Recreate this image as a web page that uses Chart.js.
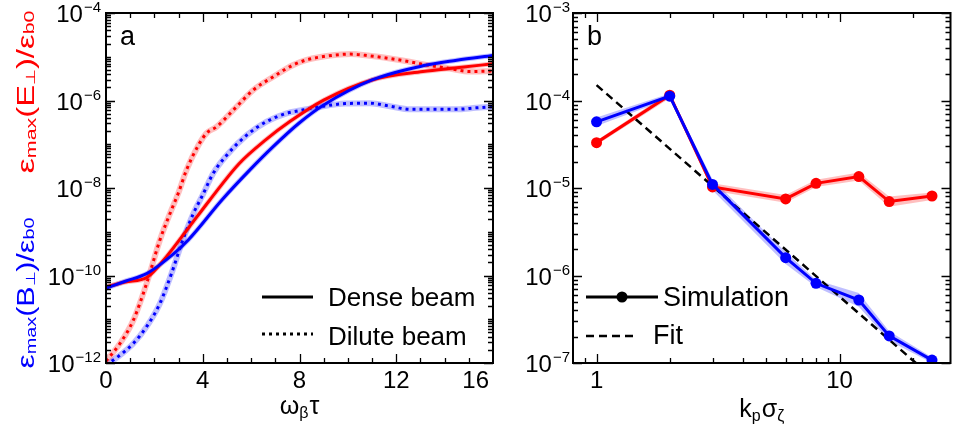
<!DOCTYPE html>
<html>
<head>
<meta charset="utf-8">
<script src="https://cdn.jsdelivr.net/npm/chart.js@4.4.1/dist/chart.umd.min.js"></script>
<style>
  html, body { margin: 0; padding: 0; background: #fff; }
  #wrap { position: relative; width: 956px; height: 432px; overflow: hidden; }
  canvas { position: absolute; top: 0; }
  #graphA { left: 0; }
  #graphB { left: 478px; }
</style>
</head>
<body>
<div id="wrap">
  <canvas id="graphA" width="500" height="432"></canvas>
  <canvas id="graphB" width="478" height="432"></canvas>
</div>
<script>
// ---- panel a: growth of E and B field emittance vs omega_beta * tau ----
const tDenseE  = [0, 0.8, 1.7, 2.5, 3.4, 4.3, 5.5, 6.6, 7.6, 9.0, 11.0, 13.1, 14.5, 16];
const denseE   = [5.5e-11, 7.1e-11, 9.1e-11, 2.7e-10, 1.2e-9, 5.4e-9, 3.6e-8, 1.26e-7, 3.3e-7, 1.02e-6, 2.95e-6, 4.6e-6, 5.6e-6, 6.9e-6];

const tDenseB  = [0, 0.8, 1.7, 2.5, 3.4, 4.8, 5.95, 6.9, 8.0, 9.0, 11.0, 13.1, 14.5, 16];
const denseB   = [5.1e-11, 7.4e-11, 1.12e-10, 2.3e-10, 6.5e-10, 5.4e-9, 2.6e-8, 8.7e-8, 3.1e-7, 7.9e-7, 2.95e-6, 6.2e-6, 8.3e-6, 1.07e-5];

const tDiluteE = [0, 0.58, 1.13, 1.68, 2.23, 2.71, 3.0, 3.33, 3.82, 4.16, 4.57, 5.26, 6.09, 6.92, 7.74, 8.3, 9.2, 10.1, 10.9, 11.74, 12.5, 13.25, 14.2, 15.05, 16];
const diluteE  = [1.1e-12, 2.8e-12, 9.5e-12, 6.6e-11, 6.5e-10, 3.2e-9, 7.9e-9, 2.6e-8, 9.5e-8, 1.8e-7, 2.5e-7, 6.0e-7, 1.74e-6, 3.5e-6, 6.5e-6, 8.5e-6, 1.05e-5, 1.15e-5, 1.05e-5, 9.1e-6, 7.8e-6, 6.5e-6, 5.4e-6, 4.6e-6, 4.7e-6];

const tDiluteB = [0, 0.5, 1.13, 1.68, 2.23, 2.71, 3.13, 3.61, 3.96, 4.44, 4.99, 5.82, 6.64, 7.47, 8.02, 8.98, 9.9, 10.91, 11.74, 12.57, 13.5, 14.5, 15.3, 16];
const diluteB  = [8.9e-13, 1.4e-12, 2.8e-12, 6.8e-12, 2.3e-11, 1.12e-10, 5.5e-10, 2.6e-9, 6.3e-9, 2.2e-8, 5.6e-8, 1.62e-7, 3.3e-7, 5.1e-7, 5.9e-7, 7.4e-7, 8.5e-7, 8.7e-7, 7.4e-7, 6.3e-7, 6.3e-7, 6.3e-7, 6.8e-7, 7.2e-7];

// ---- panel b: saturated emittance vs k_p sigma_zeta ----
const kSigma   = [1, 2, 3, 6, 8, 12, 16, 24];
const simE     = [3.3e-5, 1.15e-4, 1.03e-5, 7.5e-6, 1.13e-5, 1.35e-5, 7.0e-6, 8.1e-6];
const simELow  = [3.1e-5, 1.06e-4, 9.3e-6, 6.8e-6, 1.03e-5, 1.22e-5, 6.1e-6, 7.3e-6];
const simEHigh = [3.5e-5, 1.24e-4, 1.13e-5, 8.3e-6, 1.24e-5, 1.5e-5, 8.0e-6, 8.9e-6];
const simB     = [5.7e-5, 1.12e-4, 1.1e-5, 1.6e-6, 8.15e-7, 5.25e-7, 2.04e-7, 1.08e-7];
const simBLow  = [5.1e-5, 1.05e-4, 9.4e-6, 1.35e-6, 7.4e-7, 4.4e-7, 1.8e-7, 1.0e-7];
const simBHigh = [6.4e-5, 1.2e-4, 1.25e-5, 1.85e-6, 8.9e-7, 6.3e-7, 2.3e-7, 1.16e-7];
const fitK     = [1, 20.6];
const fitVal   = [1.5e-4, 1.0e-7];

const RED = '#ff0000';
const BLUE = '#0000ff';
const RED_BAND = 'rgba(255, 0, 0, 0.25)';
const BLUE_BAND = 'rgba(0, 0, 255, 0.25)';
const FONT = '"Liberation Sans", Arial, Helvetica, sans-serif';

const pts = (xs, ys) => xs.map((x, i) => ({ x: x, y: ys[i] }));
const font = size => size + 'px ' + FONT;

// text made of pieces, some of them smaller and lowered (subscripts)
function richWidth(ctx, parts) {
    let w = 0;
    for (const p of parts) {
        ctx.font = font(p.size);
        w += ctx.measureText(p.text).width + (p.gap || 0);
    }
    return w;
}
function drawRich(ctx, parts, x, y) {
    for (const p of parts) {
        ctx.font = font(p.size);
        ctx.fillText(p.text, x, y + (p.dy || 0));
        x += ctx.measureText(p.text).width + (p.gap || 0);
    }
}

// "10" with a raised exponent, right aligned at x
function drawPower(ctx, exp, x, y) {
    const e = '\u2212' + Math.abs(exp);
    ctx.font = font(15);
    const we = ctx.measureText(e).width;
    ctx.fillText(e, x - we, y - 1);
    ctx.font = font(24);
    const wb = ctx.measureText('10').width;
    ctx.fillText('10', x - we - wb - 1, y + 9);
}

function logTicks(from, to, majorEvery) {
    const list = [];
    for (let n = from; n < to; n++) {
        for (let k = 1; k <= 9; k++) {
            const major = k === 1 && ((n - from) % majorEvery === 0);
            list.push([k * Math.pow(10, n), major ? 9 : 5]);
        }
    }
    list.push([Math.pow(10, to), (to - from) % majorEvery === 0 ? 9 : 5]);
    return list;
}

// box, inward ticks, tick labels, titles and legend
const framePlugin = {
    id: 'frame',
    afterDraw(chart, args, opts) {
        const { ctx, chartArea: a, scales } = chart;
        const sx = scales.x, sy = scales.y;
        ctx.save();
        ctx.strokeStyle = '#000';
        ctx.lineWidth = 1.3;
        ctx.beginPath();
        for (const [v, len] of opts.xTicks) {
            const px = Math.round(sx.getPixelForValue(v)) + 0.5;
            if (px < a.left || px > a.right) continue;
            ctx.moveTo(px, a.bottom); ctx.lineTo(px, a.bottom - len);
            ctx.moveTo(px, a.top); ctx.lineTo(px, a.top + len);
        }
        for (const [v, len] of opts.yTicks) {
            const py = Math.round(sy.getPixelForValue(v)) + 0.5;
            ctx.moveTo(a.left, py); ctx.lineTo(a.left + len, py);
            ctx.moveTo(a.right, py); ctx.lineTo(a.right - len, py);
        }
        ctx.stroke();
        ctx.lineWidth = 2;
        ctx.strokeRect(a.left, a.top, a.right - a.left, a.bottom - a.top);

        ctx.fillStyle = '#000';
        ctx.textBaseline = 'alphabetic';
        ctx.textAlign = 'left';
        ctx.font = font(24);
        for (const v of opts.xLabels) {
            const s = String(v);
            const w = ctx.measureText(s).width;
            // the last label is pulled back inside the frame
            const x = Math.min(sx.getPixelForValue(v) - w / 2, a.right - 4 - w);
            ctx.fillText(s, x, a.bottom + 25);
        }
        for (const e of opts.yLabels) {
            drawPower(ctx, e, a.left - opts.yLabelGap, sy.getPixelForValue(Math.pow(10, e)));
        }

        // x axis title
        const xt = opts.xTitle;
        drawRich(ctx, xt, (a.left + a.right) / 2 - richWidth(ctx, xt) / 2, a.bottom + opts.xTitleDrop);

        // rotated y titles, stretched along the text direction
        for (const yt of opts.yTitles || []) {
            const w = richWidth(ctx, yt.parts);
            ctx.save();
            ctx.translate(yt.x, yt.cy);
            ctx.rotate(-Math.PI / 2);
            ctx.scale(yt.len / w, 1);
            ctx.fillStyle = yt.color;
            drawRich(ctx, yt.parts, -w / 2, 0);
            ctx.restore();
        }

        // panel letter
        ctx.fillStyle = '#000';
        ctx.font = font(27);
        ctx.fillText(opts.letter, a.left + 14, a.top + 32);

        opts.legend(ctx, a);
        ctx.restore();
    }
};

const baseOptions = (padding) => ({
    responsive: false,
    animation: false,
    devicePixelRatio: 1,
    layout: { padding: padding },
    plugins: { legend: { display: false }, tooltip: { enabled: false } },
    elements: { point: { radius: 0 } },
});

// ---------------- panel a ----------------
const curveA = (xs, ys, color, dotted) => ({
    data: pts(xs, ys),
    borderColor: color,
    borderWidth: 3,
    borderDash: dotted ? [3, 4] : [],
    borderCapStyle: 'butt',
    cubicInterpolationMode: 'monotone',
    pointRadius: 0,
});
const haloA = (xs, ys, color, width) => ({
    data: pts(xs, ys),
    borderColor: color,
    borderWidth: width,
    cubicInterpolationMode: 'monotone',
    pointRadius: 0,
    order: 20,
});

const titleParts = letter => [
    { text: '\u03b5', size: 24 },
    { text: 'max', size: 15, dy: 2 },
    { text: '(' + letter, size: 23 },
    { text: '\u22a5', size: 13, dy: 1 },
    { text: ')/\u03b5', size: 23 },
    { text: 'b0', size: 15 },
];

const optsA = baseOptions({ left: 106, right: 7, top: 13, bottom: 69 });
optsA.scales = {
    x: { type: 'linear', min: 0, max: 16, display: false },
    y: { type: 'logarithmic', min: 1e-12, max: 1e-4, display: false },
};
optsA.plugins.frame = {
    xTicks: Array.from({ length: 17 }, (_, i) => [i, i % 4 === 0 ? 9 : 5]),
    yTicks: logTicks(-12, -4, 2),
    xLabels: [0, 4, 8, 12, 16],
    yLabels: [-4, -6, -8, -10, -12],
    yLabelGap: 5,
    xTitle: [
        { text: '\u03c9', size: 25 },
        { text: '\u03b2', size: 16, dy: 4, gap: 1 },
        { text: '\u03c4', size: 25 },
    ],
    xTitleDrop: 51,
    yTitles: [
        { color: RED, x: 34, cy: 92, len: 163, parts: titleParts('E') },
        { color: BLUE, x: 34, cy: 293, len: 151, parts: titleParts('B') },
    ],
    letter: 'a',
    legend(ctx, a) {
        ctx.strokeStyle = '#000';
        ctx.lineWidth = 3;
        ctx.beginPath();
        ctx.moveTo(a.left + 156, a.top + 284); ctx.lineTo(a.left + 207, a.top + 284);
        ctx.stroke();
        ctx.setLineDash([3, 4]);
        ctx.beginPath();
        ctx.moveTo(a.left + 156, a.top + 321); ctx.lineTo(a.left + 207, a.top + 321);
        ctx.stroke();
        ctx.setLineDash([]);
        ctx.font = font(26);
        ctx.fillText('Dense beam', a.left + 222, a.top + 293);
        ctx.fillText('Dilute beam', a.left + 222, a.top + 332);
    },
};

new Chart(document.getElementById('graphA'), {
    type: 'line',
    data: {
        datasets: [
            haloA(tDiluteE, diluteE, RED_BAND, 6),
            haloA(tDiluteB, diluteB, BLUE_BAND, 6),
            haloA(tDenseE, denseE, RED_BAND, 5),
            haloA(tDenseB, denseB, BLUE_BAND, 5),
            Object.assign(curveA(tDiluteE, diluteE, RED, true), { order: 6 }),
            Object.assign(curveA(tDiluteB, diluteB, BLUE, true), { order: 5 }),
            Object.assign(curveA(tDenseE, denseE, RED, false), { order: 4 }),
            Object.assign(curveA(tDenseB, denseB, BLUE, false), { order: 3 }),
        ],
    },
    options: optsA,
    plugins: [framePlugin],
});

// ---------------- panel b ----------------
const bandB = (ys, color, filled) => ({
    data: pts(kSigma, ys),
    borderWidth: 0,
    pointRadius: 0,
    fill: filled ? '-1' : false,
    backgroundColor: color,
    order: 20,
});
const simLine = (ys, color, order) => ({
    data: pts(kSigma, ys),
    borderColor: color,
    borderWidth: 3,
    pointRadius: 5.5,
    pointBackgroundColor: color,
    pointBorderWidth: 0,
    order: order,
});

const optsB = baseOptions({ left: 95, right: 1, top: 13, bottom: 69 });
optsB.scales = {
    x: { type: 'logarithmic', min: 0.8, max: 28.6, display: false },
    y: { type: 'logarithmic', min: 1e-7, max: 1e-3, display: false },
};
optsB.plugins.frame = {
    xTicks: [[0.9, 5], [1, 9], [2, 5], [3, 5], [4, 5], [5, 5], [6, 5], [7, 5], [8, 5], [9, 5], [10, 9], [20, 5]],
    yTicks: logTicks(-7, -3, 1),
    xLabels: [1, 10],
    yLabels: [-3, -4, -5, -6, -7],
    yLabelGap: 3,
    xTitle: [
        { text: 'k', size: 25 },
        { text: 'p', size: 16, dy: 4, gap: 1 },
        { text: '\u03c3', size: 25 },
        { text: '\u03b6', size: 16, dy: 4 },
    ],
    xTitleDrop: 54,
    letter: 'b',
    legend(ctx, a) {
        ctx.strokeStyle = '#000';
        ctx.lineWidth = 3;
        ctx.beginPath();
        ctx.moveTo(a.left + 13, a.top + 284); ctx.lineTo(a.left + 85, a.top + 284);
        ctx.stroke();
        ctx.beginPath();
        ctx.arc(a.left + 49, a.top + 284, 5.5, 0, Math.PI * 2);
        ctx.fill();
        ctx.lineWidth = 2.5;
        ctx.setLineDash([8, 5]);
        ctx.beginPath();
        ctx.moveTo(a.left + 13, a.top + 323); ctx.lineTo(a.left + 64, a.top + 323);
        ctx.stroke();
        ctx.setLineDash([]);
        ctx.font = font(27);
        ctx.fillText('Simulation', a.left + 90, a.top + 293);
        ctx.fillText('Fit', a.left + 80, a.top + 331);
    },
};

new Chart(document.getElementById('graphB'), {
    type: 'line',
    data: {
        datasets: [
            bandB(simELow, RED_BAND, false),
            bandB(simEHigh, RED_BAND, true),
            bandB(simBLow, BLUE_BAND, false),
            bandB(simBHigh, BLUE_BAND, true),
            {
                data: pts(fitK, fitVal),
                borderColor: '#000',
                borderWidth: 2.5,
                borderDash: [8, 5],
                pointRadius: 0,
                order: 4,
            },
            simLine(simE, RED, 3),
            simLine(simB, BLUE, 2),
        ],
    },
    options: optsB,
    plugins: [framePlugin],
});
</script>
</body>
</html>
